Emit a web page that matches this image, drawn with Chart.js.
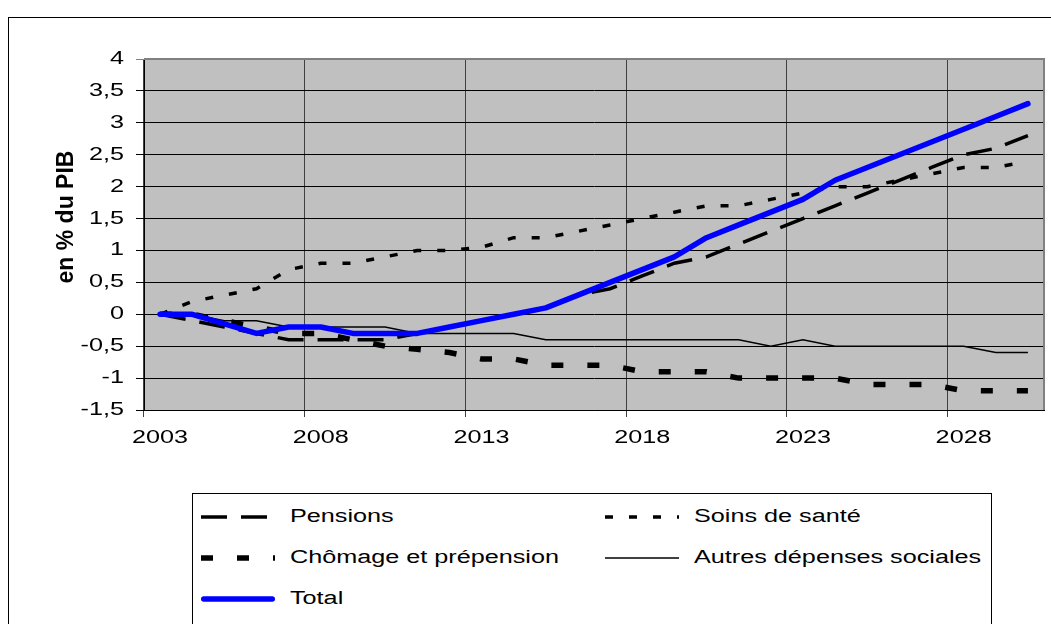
<!DOCTYPE html>
<html lang="fr">
<head>
<meta charset="UTF-8">
<title>Dépenses sociales en % du PIB</title>
<script src="https://cdn.jsdelivr.net/npm/chart.js"></script>
<style>
    body {
        margin: 0;
        background: #ffffff;
        font-family: "Liberation Sans", Arial, sans-serif;
        overflow: hidden;
    }
    #wrap {
        position: relative;
        width: 1051px;
        height: 624px;
        overflow: hidden;
    }
    #frame {
        position: absolute;
        left: 8px;
        top: 17px;
        width: 1100px;
        height: 700px;
        border: 1px solid #000;
    }
    canvas {
        position: absolute;
        left: 0;
        top: 0;
    }
    #legend {
        position: absolute;
        left: 192px;
        top: 493px;
        width: 800px;
        height: 200px;
        box-sizing: border-box;
        border: 1px solid #000;
        background: #fff;
        padding: 2px 0 0 8px;
        display: grid;
        grid-template-columns: 404px 1fr;
        grid-auto-rows: 41px;
    }
    .item {
        display: flex;
        align-items: center;
    }
    .item svg {
        flex: none;
        margin-right: 15px;
    }
    .item span {
        display: inline-block;
        font-size: 18px;
        color: #000;
        white-space: nowrap;
        transform: scaleX(1.4);
        transform-origin: left center;
    }
</style>
</head>
<body>
<div id="wrap">
    <div id="frame"></div>
    <canvas id="chart" width="1051" height="624"></canvas>
    <div id="legend"></div>
</div>

<script>
    const years = ['2003', '2004', '2005', '2006', '2007', '2008', '2009', '2010', '2011', '2012',
                   '2013', '2014', '2015', '2016', '2017', '2018', '2019', '2020', '2021', '2022',
                   '2023', '2024', '2025', '2026', '2027', '2028', '2029', '2030'];

    const pensions = [0, -0.1, -0.2, -0.3, -0.4, -0.4, -0.4, -0.4, -0.3, -0.2,
                      -0.1, 0, 0.1, 0.3, 0.4, 0.6, 0.8, 0.9, 1.1, 1.3,
                      1.5, 1.7, 1.9, 2.1, 2.3, 2.5, 2.6, 2.8];
    const soins = [0, 0.2, 0.3, 0.4, 0.7, 0.8, 0.8, 0.9, 1.0, 1.0,
                   1.05, 1.2, 1.2, 1.3, 1.4, 1.5, 1.6, 1.7, 1.7, 1.8,
                   1.9, 2.0, 2.0, 2.1, 2.2, 2.3, 2.3, 2.4];
    const chomage = [0, 0, -0.1, -0.2, -0.3, -0.3, -0.4, -0.5, -0.55, -0.6,
                     -0.7, -0.7, -0.8, -0.8, -0.8, -0.9, -0.9, -0.9, -1.0, -1.0,
                     -1.0, -1.0, -1.1, -1.1, -1.1, -1.2, -1.2, -1.2];
    const autres = [0, 0, -0.1, -0.1, -0.2, -0.2, -0.2, -0.2, -0.3, -0.3,
                    -0.3, -0.3, -0.4, -0.4, -0.4, -0.4, -0.4, -0.4, -0.4, -0.5,
                    -0.4, -0.5, -0.5, -0.5, -0.5, -0.5, -0.6, -0.6];
    const total = [0, 0, -0.15, -0.3, -0.2, -0.2, -0.3, -0.3, -0.3, -0.2,
                   -0.1, 0, 0.1, 0.3, 0.5, 0.7, 0.9, 1.2, 1.4, 1.6,
                   1.8, 2.1, 2.3, 2.5, 2.7, 2.9, 3.1, 3.3];

    const yTitle = 'en % du PIB';
    const fontFamily = '"Liberation Sans", Arial, sans-serif';
    const TEXT_STRETCH = 1.4; // the original picture has wide, stretched lettering

    const canvas = document.getElementById('chart');
    const ctx = canvas.getContext('2d');

    // stretch every label horizontally around its anchor point
    const plainFillText = ctx.fillText.bind(ctx);
    ctx.fillText = function (text, x, y) {
        ctx.save();
        ctx.translate(x, y);
        ctx.scale(TEXT_STRETCH, 1);
        plainFillText(text, 0, 0);
        ctx.restore();
    };

    const plotFrame = {
        id: 'plotFrame',
        beforeDraw(chart) {
            const a = chart.chartArea;
            const c = chart.ctx;
            c.save();
            c.fillStyle = '#c0c0c0';
            c.fillRect(a.left, a.top, a.width, a.height);
            c.restore();
        },
        beforeDatasetsDraw(chart) {
            const a = chart.chartArea;
            const c = chart.ctx;
            c.save();
            c.strokeStyle = '#808080';
            c.lineWidth = 2;
            c.beginPath();
            c.moveTo(a.left, a.top);
            c.lineTo(a.right, a.top);
            c.lineTo(a.right, a.bottom);
            c.stroke();
            c.restore();
        },
        afterDraw(chart) {
            const c = chart.ctx;
            c.save();
            c.translate(67, 217);
            c.rotate(-Math.PI / 2);
            c.font = 'bold 23px ' + fontFamily;
            c.fillStyle = '#000';
            c.textAlign = 'center';
            c.textBaseline = 'middle';
            plainFillText(yTitle, 0, 0);
            c.restore();
        }
    };

    const chart = new Chart(ctx, {
        type: 'line',
        data: {
            labels: years,
            datasets: [
                { label: 'Pensions', data: pensions, borderColor: '#000', borderWidth: 3.5, borderDash: [26, 14], order: 1 },
                { label: 'Soins de santé', data: soins, borderColor: '#000', borderWidth: 3.5, borderDash: [8, 16], order: 2 },
                { label: 'Chômage et prépension', data: chomage, borderColor: '#000', borderWidth: 5.5, borderDash: [12, 24], order: 3 },
                { label: 'Autres dépenses sociales', data: autres, borderColor: '#000', borderWidth: 1.5, order: 4 },
                { label: 'Total', data: total, borderColor: '#0000ff', borderWidth: 5.5,
                  borderCapStyle: 'round', borderJoinStyle: 'round', order: 0 }
            ]
        },
        options: {
            responsive: false,
            animation: false,
            layout: { padding: { left: 0, top: 59, right: 7, bottom: 174 } },
            elements: {
                point: { radius: 0 },
                line: { tension: 0, fill: false }
            },
            plugins: {
                legend: { display: false },
                tooltip: { enabled: false }
            },
            scales: {
                x: {
                    offset: true,
                    grid: {
                        offset: true,
                        color: c => c.index % 5 === 0 ? '#404040' : 'transparent',
                        tickLength: 7
                    },
                    border: { color: '#000' },
                    ticks: {
                        autoSkip: false,
                        maxRotation: 0,
                        padding: 10,
                        color: '#000',
                        font: { size: 18, family: fontFamily },
                        callback: (v, i) => i % 5 === 0 ? years[i] : ''
                    },
                    afterFit: s => { s.height = 40; }
                },
                y: {
                    min: -1.5,
                    max: 4,
                    grid: {
                        color: c => c.tick && c.tick.value === 4 ? '#808080' : '#000',
                        tickLength: 8
                    },
                    border: { color: '#000' },
                    ticks: {
                        stepSize: 0.5,
                        padding: 12,
                        color: '#000',
                        font: { size: 18, family: fontFamily },
                        callback: v => String(v).replace('.', ',')
                    },
                    afterFit: s => { s.width = 144; }
                }
            }
        },
        plugins: [plotFrame]
    });

    // legend in two columns, like the original
    const legend = document.getElementById('legend');
    chart.data.datasets.forEach(ds => {
        const item = document.createElement('div');
        item.className = 'item';
        const dash = ds.borderDash ? ds.borderDash.join(' ') : 'none';
        const cap = ds.borderCapStyle === 'round' ? 'round' : 'butt';
        const pad = cap === 'round' ? ds.borderWidth / 2 : 0;
        item.innerHTML =
            '<svg width="74" height="12"><line x1="' + pad + '" y1="6" x2="' + (74 - pad) + '" y2="6" stroke="' + ds.borderColor +
            '" stroke-width="' + ds.borderWidth + '" stroke-dasharray="' + dash + '" stroke-linecap="' + cap + '"/></svg>' +
            '<span>' + ds.label + '</span>';
        legend.appendChild(item);
    });
</script>
</body>
</html>
